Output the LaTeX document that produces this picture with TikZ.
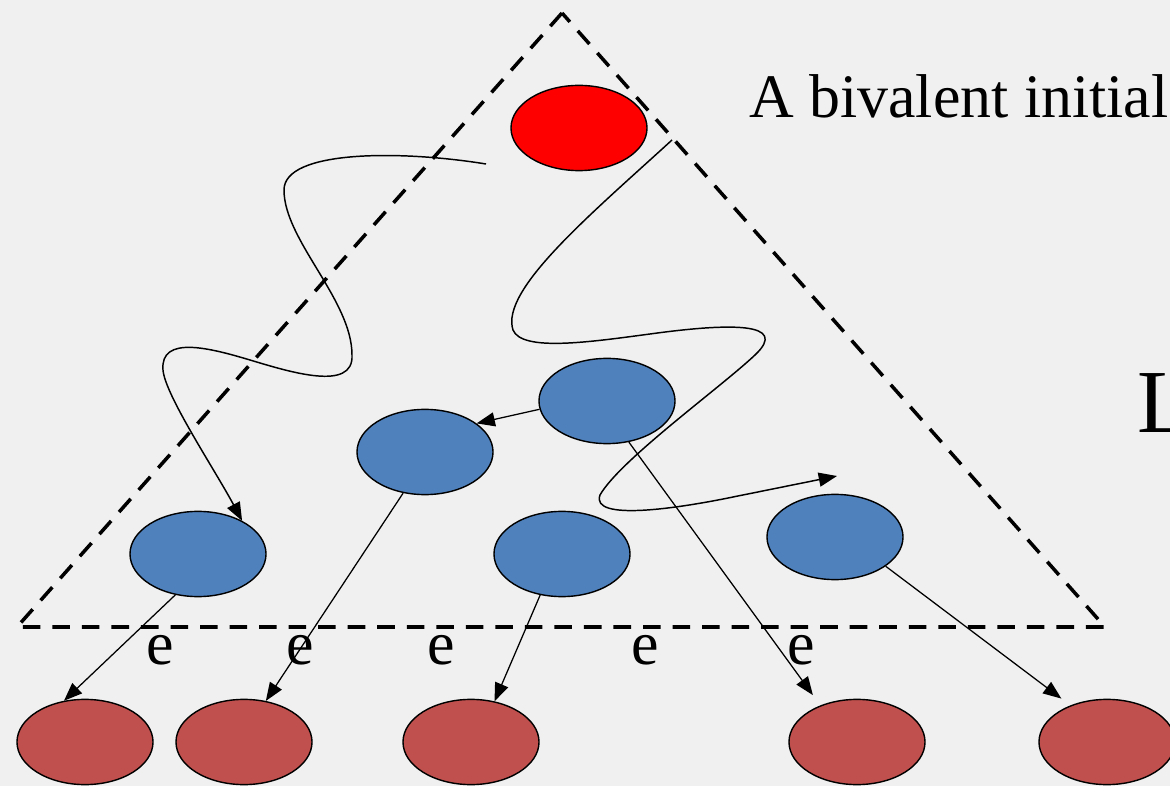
\documentclass[tikz,border=0pt]{standalone}
\usepackage{fontspec}
\setmainfont{Liberation Serif}
\usetikzlibrary{shapes.geometric}
\usetikzlibrary{arrows.meta}

\definecolor{bgGray}{HTML}{F0F0F0}
\definecolor{initRed}{HTML}{FF0000}
\definecolor{stateBlue}{HTML}{4F81BD}
\definecolor{finalRed}{HTML}{C0504D}

\begin{document}
\begin{tikzpicture}[x=0.025cm, y=-0.025cm,
		config/.style={ellipse, draw, line width=1pt, minimum width=3.4cm, minimum height=2.13cm, inner sep=0pt},
		run/.style={line width=1.05pt, -{Triangle[length=13pt,width=10pt]}},
		step edge/.style={line width=0.9pt, -{Triangle[length=13pt,width=10pt]}},
		evtext/.style={anchor=base, inner sep=0pt, font=\fontsize{44}{50}\selectfont}]
				% Background and frame
				\clip (0,0) rectangle (1170,786);
				\fill[bgGray] (0,0) rectangle (1170,786);
				
				% Dashed triangle
				\draw[dash pattern=on 12.5pt off 8.5pt, line width=2.5pt] (562,13) -- (17,627) -- (1105,627) -- cycle;
				
				% Texts on the right
				\node[anchor=base west, inner sep=0pt, font=\fontsize{44}{50}\selectfont] (bivalent) at (749,118) {A bivalent initial};
				\node[anchor=base west, inner sep=0pt, font=\fontsize{64}{70}\selectfont] (lbl) at (1137,433) {L};
				
				% Initial configuration
				\node[config, fill=initRed] (init) at (579,128) {};
				
				% Blue configurations
				\node[config, fill=stateBlue] (b1) at (607,401) {};
				\node[config, fill=stateBlue] (b2) at (425,452) {};
				\node[config, fill=stateBlue] (b3) at (198,554) {};
				\node[config, fill=stateBlue] (b4) at (562,554) {};
				\node[config, fill=stateBlue] (b5) at (835,537) {};
				
				% Bottom configurations
				\node[config, fill=finalRed] (r1) at (85,742) {};
				\node[config, fill=finalRed] (r2) at (244,742) {};
				\node[config, fill=finalRed] (r3) at (471,742) {};
				\node[config, fill=finalRed] (r4) at (857,742) {};
				\node[config, fill=finalRed] (r5) at (1107,742) {};
				
				% Event labels
				\node[evtext] (e1) at (160,664) {e};
				\node[evtext] (e2) at (300,664) {e};
				\node[evtext] (e3) at (441,664) {e};
				\node[evtext] (e4) at (645,664) {e};
				\node[evtext] (e5) at (801,664) {e};
				
				% Straight steps
				\draw[step edge] (b1.187) -- (b2.29);
				\draw[step edge] (b3.-119) -- (r1.117);
				\draw[step edge] (b2.-118) -- (r2.62);
				\draw[step edge] (b4.-118) -- (r3.60);
				\draw[step edge, shorten >=9pt] (b1.-62) -- (r4.135);
				\draw[step edge, shorten >=8pt] (b5.-30) -- (r5.135);
				
				% Wavy runs
				\coordinate (runA) at (486,164);
				\coordinate (runB) at (672,140);
				\coordinate (runBend) at (837,476);
				\draw[run] (runA) .. controls (400,150) and (284,150) .. (284,190)
					.. controls (284,240) and (352,300) .. (352,355)
					.. controls (354,392) and (290,372) .. (250,360)
					.. controls (210,348) and (160,335) .. (163,370)
					.. controls (165,395) and (215,470) .. (b3.37);
				\draw[run] (runB) .. controls (590,215) and (500,290) .. (513,330)
					.. controls (522,352) and (590,342) .. (650,334)
					.. controls (730,323) and (790,322) .. (755,355)
					.. controls (720,388) and (620,460) .. (600,495)
					.. controls (590,522) and (680,508) .. (733,497)
					-- (runBend);
			\end{tikzpicture}
\end{document}
